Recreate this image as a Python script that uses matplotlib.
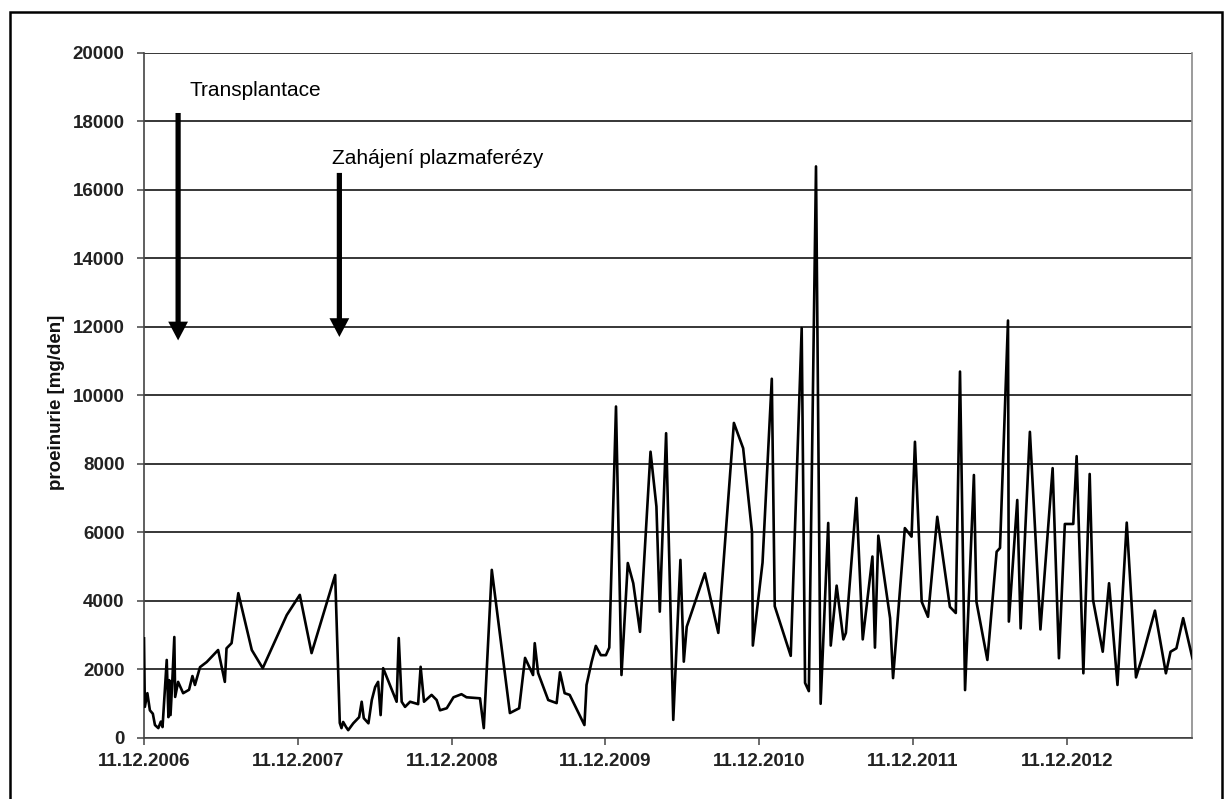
import matplotlib
matplotlib.use('Agg')
import matplotlib.pyplot as plt
import matplotlib.dates as mdates
from matplotlib.patches import Rectangle
import pandas as pd

plt.rcParams['font.family'] = ['Liberation Sans', 'DejaVu Sans']

start = pd.Timestamp('2006-12-11')

# days since 11.12.2006 and measured proteinuria [mg/den]
days = [0, 2, 8, 14, 21, 26, 34, 40, 44, 54, 58, 60, 63, 67, 72, 74, 81, 93,
        107, 115, 121, 133, 149, 176, 192, 196, 208, 224, 256, 282, 339, 370,
        398, 454, 465, 469, 473, 480, 485, 497, 511, 517, 522, 533, 541, 549,
        556, 562, 568, 600, 605, 612, 620, 632, 651, 657, 665, 683, 695, 703,
        719, 735, 754, 766, 798, 807, 826, 869, 891, 905, 924, 928, 936, 960,
        980, 988, 999, 1011, 1046, 1051, 1063, 1073, 1085, 1097, 1105, 1121,
        1134, 1149, 1162, 1178, 1203, 1217, 1225, 1240, 1257, 1274, 1282, 1289,
        1332, 1364, 1401, 1423, 1444, 1446, 1469, 1491, 1498, 1536, 1562, 1570,
        1579, 1596, 1607, 1625, 1631, 1645, 1661, 1667, 1692, 1707, 1730, 1736,
        1744, 1772, 1779, 1807, 1823, 1831, 1847, 1862, 1884, 1914, 1928, 1938,
        1950, 1971, 1977, 2003, 2025, 2033, 2052, 2054, 2074, 2082, 2104, 2129,
        2158, 2173, 2187, 2207, 2215, 2231, 2246, 2254, 2277, 2292, 2312, 2334,
        2356, 2372, 2401, 2427, 2438, 2452, 2468, 2490]
values = [2900, 900, 1300, 800, 700, 370, 280, 470, 310, 2270, 600, 1680, 660,
          1600, 2940, 1190, 1630, 1300, 1400, 1800, 1540, 2060, 2210, 2560,
          1630, 2610, 2760, 4220, 2560, 2030, 3580, 4170, 2470, 4750, 430, 280,
          460, 310, 220, 420, 600, 1050, 570, 420, 1100, 1480, 1630, 660, 2030,
          1050, 2910, 1050, 900, 1050, 980, 2070, 1050, 1250, 1100, 800, 860,
          1180, 1270, 1180, 1150, 280, 4900, 720, 860, 2330, 1830, 2760, 1890,
          1100, 1010, 1910, 1300, 1250, 370, 1540, 2210, 2680, 2410, 2410, 2630,
          9670, 1830, 5100, 4510, 3090, 8350, 6750, 3680, 8890, 520, 5190, 2220,
          3240, 4800, 3060, 9190, 8450, 6000, 2690, 5110, 10480, 3840, 2390,
          11960, 1600, 1360, 16680, 990, 6270, 2690, 4440, 2870, 3060, 7000,
          2870, 5290, 2630, 5900, 3490, 1740, 6120, 5870, 8640, 3970, 3530, 6450,
          3820, 3640, 10690, 1390, 7670, 3970, 2270, 5430, 5540, 12180, 3390,
          6940, 3190, 8930, 3160, 7870, 2320, 6240, 6240, 8220, 1880, 7700, 4020,
          2510, 4510, 1540, 6280, 1760, 2400, 3710, 1880, 2510, 2610, 3490, 2320]

tick_years = [2006, 2007, 2008, 2009, 2010, 2011, 2012]
y_ticks = list(range(0, 20001, 2000))

# events: (label, day, arrow top, arrow tip, text day, text y)
events = [
    ('Transplantace', 81, 18240, 11600, 109, 18910),
    ('Zahájení plazmaferézy', 464, 16490, 11700, 446, 16925),
]

dates = start + pd.to_timedelta(days, unit='D')

fig = plt.figure(figsize=(12.28, 7.99), dpi=100)
ax = fig.add_axes([144 / 1228, 1 - 737.7 / 799, (1192 - 144) / 1228, (737.7 - 52.7) / 799])

ax.plot(dates, values, color='black', lw=1.9, zorder=3)

ax.set_ylim(0, 20000)
ax.set_xlim(start, start + pd.Timedelta(days=2489))
ax.set_yticks(y_ticks)
ax.set_xticks([pd.Timestamp(f'{y}-12-11') for y in tick_years])
ax.xaxis.set_major_formatter(mdates.DateFormatter('%d.%m.%Y'))
ax.yaxis.grid(True, color='black', lw=1.1)
ax.set_axisbelow(True)

for s in ['left', 'bottom']:
    ax.spines[s].set_color('#444444')
    ax.spines[s].set_linewidth(1.2)
ax.spines['top'].set_visible(False)
ax.spines['right'].set_color('#8a8a8a')
ax.spines['right'].set_linewidth(1.2)

ax.tick_params(axis='y', direction='out', length=5, width=1.1, color='#444444',
               pad=9, labelsize=13.5, labelcolor='#222222')
ax.tick_params(axis='x', direction='out', length=5, width=1.1, color='#444444',
               pad=6, labelsize=13.5, labelcolor='#222222')
for lab in ax.get_xticklabels() + ax.get_yticklabels():
    lab.set_fontweight('bold')

ax.set_ylabel('proeinurie [mg/den]', fontsize=13.5, fontweight='bold', color='#111111')
ax.yaxis.set_label_coords(-0.075, 0.49)

for label, d, top, tip, tx, ty in events:
    x = start + pd.Timedelta(days=d)
    ax.annotate('', xy=(x, tip), xytext=(x, top),
                arrowprops=dict(arrowstyle='simple,head_length=0.9,head_width=0.95,tail_width=0.25',
                                fc='black', ec='none', lw=0, shrinkA=0, shrinkB=0,
                                mutation_scale=15))
    ax.text(start + pd.Timedelta(days=tx), ty, label, fontsize=15,
            va='center', ha='left', color='black')

fig.patches.append(Rectangle((9.5 / 1228, -0.1), (1222 - 9.5) / 1228, 1.1 - 12 / 799,
                             transform=fig.transFigure, fill=False,
                             edgecolor='black', lw=1.8))

fig.savefig('out.png', dpi=100)
